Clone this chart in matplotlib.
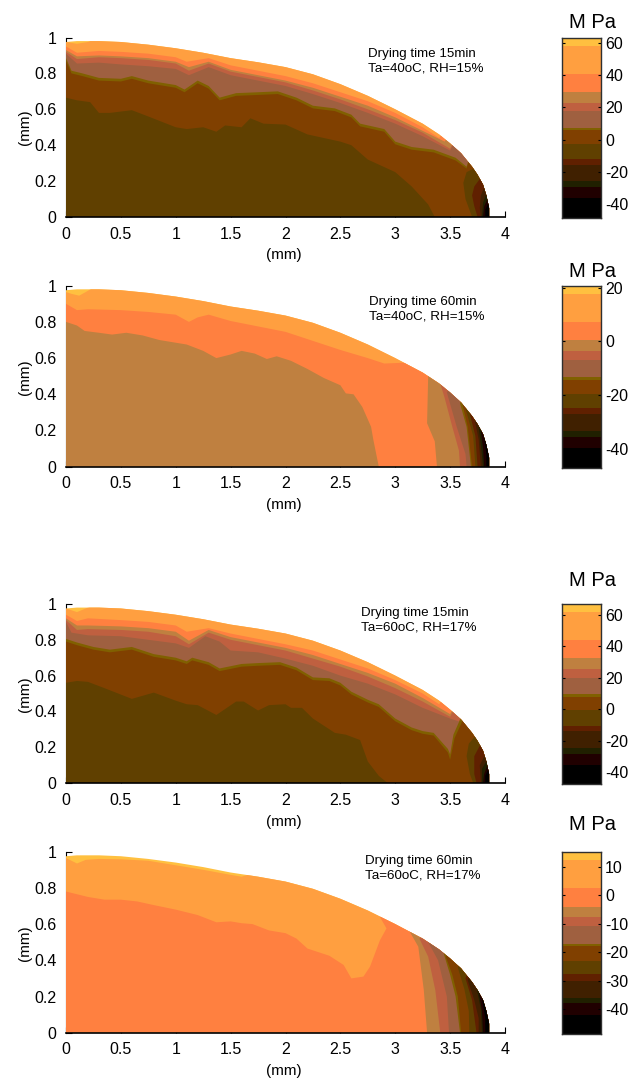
import matplotlib
matplotlib.use("Agg")
import matplotlib.pyplot as plt

plt.rcParams["font.family"] = ["Liberation Sans", "DejaVu Sans"]
plt.rcParams["axes.unicode_minus"] = False

W, H = 635, 1080

# colour bands, top of the scale first
YELLOW = "#FFC040"
ORANGE = "#FF9F40"
CORAL = "#FF8040"
TAN = "#BF8040"
RUST = "#BF6040"
MAUVE = "#9F6040"
OLIVE = "#806000"
BROWN = "#804000"
UMBER = "#604000"
MAROON = "#602000"
DARK = "#402000"
MOSS = "#202000"
NEAR_BLACK = "#200000"
BLACK = "#000000"
BAND_COLORS = [YELLOW, ORANGE, CORAL, TAN, RUST, MAUVE, OLIVE, BROWN, UMBER,
               MAROON, DARK, MOSS, NEAR_BLACK, BLACK]

# droplet outline, same in all panels
DOME_X = [0, 0.1, 0.3, 0.5, 0.75, 1, 1.25, 1.5, 1.75, 2, 2.25, 2.5, 2.75, 3, 3.25,
          3.4, 3.5, 3.6, 3.7, 3.75, 3.8, 3.83, 3.855, 3.855]
DOME_Y = [0.975, 0.98, 0.98, 0.975, 0.96, 0.94, 0.915, 0.885, 0.862, 0.835, 0.795, 0.74,
          0.675, 0.6, 0.52, 0.46, 0.41, 0.355, 0.28, 0.235, 0.18, 0.12, 0.05, 0]

# colour bar band edges (MPa), top to bottom
CB1_EDGES = [63.5, 58.3, 41.1, 29.9, 23.1, 17.5, 7.2, 5.7, -2.6, -12.1, -15.6, -26, -29.3, -36.5, -48.9]
CB2_EDGES = [20.7, 17.5, 7.3, 0.6, -3.6, -7, -13.3, -14.6, -19.5, -24.8, -27.2, -33.5, -35.6, -39.7, -47.2]
CB3_EDGES = [67.2, 61.9, 44.2, 32.8, 25.8, 20, 9.4, 7.7, -0.8, -10.6, -14, -24.6, -28.2, -35.2, -47.6]
CB4_EDGES = [15.3, 12.3, 2.4, -4, -7.7, -10.9, -17.1, -18, -23, -27.7, -30, -36.1, -38, -42, -48.7]
CB1_TICKS = [-40, -20, 0, 20, 40, 60]
CB2_TICKS = [-40, -20, 0, 20]
CB3_TICKS = [-40, -20, 0, 20, 40, 60]
CB4_TICKS = [-40, -30, -20, -10, 0, 10]

# panel 1: contour lines running from the axis out to the surface
P1_ORANGE = [(0, .975), (.1, .965), (.2, .975), (.3, 1)]
P1_CORAL = [(0, .95), (.1, .915), (.3, .925), (.5, .92), (.75, .91), (1, .89), (1.1, .865), (1.3, .885), (1.5, .845),
            (1.75, .815), (2, .785), (2.25, .745), (2.5, .695), (2.75, .645), (3, .58), (3.25, .5), (3.4, .44)]
P1_TAN = [(0, .93), (.1, .895), (.3, .9), (.5, .895), (.75, .885), (1, .865), (1.12, .835), (1.3, .865), (1.5, .82),
          (1.75, .79), (2, .76), (2.25, .72), (2.5, .67), (2.75, .62), (3, .555), (3.25, .48), (3.45, .42)]
P1_RUST = [(0, .92), (.1, .88), (.3, .89), (.5, .885), (.75, .875), (1, .855), (1.12, .815), (1.3, .855), (1.5, .81),
           (1.75, .78), (2, .75), (2.25, .705), (2.5, .655), (2.75, .6), (3, .54), (3.25, .47), (3.5, .38)]
P1_MAUVE = [(0, .91), (.1, .855), (.3, .86), (.5, .85), (.75, .84), (1, .825), (1.12, .79), (1.3, .835), (1.5, .79),
            (1.75, .76), (2, .73), (2.25, .685), (2.5, .635), (2.75, .58), (3, .52), (3.25, .45), (3.5, .37)]
P1_OLIVE = [(0, .885), (.05, .815), (.15, .8), (.3, .775), (.5, .77), (.6, .785), (.75, .76), (1, .735), (1.08, .71),
            (1.2, .76), (1.3, .73), (1.4, .665), (1.55, .69), (1.75, .695), (1.93, .7), (2.1, .665), (2.25, .62),
            (2.45, .605), (2.6, .57), (2.68, .52), (2.9, .49), (3, .42), (3.15, .39), (3.35, .375), (3.55, .33), (3.65, .28)]
P1_BROWN = [(0, .87), (.05, .8), (.15, .785), (.3, .76), (.5, .755), (.6, .77), (.75, .745), (1, .72), (1.08, .695),
            (1.2, .745), (1.3, .715), (1.4, .65), (1.55, .675), (1.75, .68), (1.93, .685), (2.1, .65), (2.25, .605),
            (2.45, .59), (2.6, .555), (2.68, .505), (2.9, .475), (3, .405), (3.15, .375), (3.35, .36), (3.55, .315), (3.65, .27)]
P1_UMBER = [(0, .665), (.1, .65), (.22, .64), (.3, .58), (.4, .58), (.6, .595), (.75, .56), (1, .5), (1.1, .49),
            (1.25, .5), (1.37, .475), (1.45, .51), (1.6, .5), (1.68, .55), (1.8, .52), (2, .515), (2.2, .46), (2.5, .42),
            (2.6, .4), (2.75, .32), (3, .25), (3.15, .17), (3.3, .07), (3.36, 0)]
# panel 1: lines near the contact edge, top to bottom
P1_EDGE_UMBER = [(3.75, .28), (3.65, .25), (3.62, .19), (3.64, .1), (3.7, 0)]
P1_EDGE_MAROON = [(3.78, .22), (3.72, .17), (3.7, .12), (3.72, .06), (3.75, 0)]
P1_EDGE_DARK = [(3.82, .18), (3.78, .12), (3.77, .05), (3.78, 0)]
P1_EDGE_MOSS = [(3.83, .13), (3.8, .08), (3.79, 0)]
P1_EDGE_NEAR = [(3.84, .1), (3.81, .06), (3.8, 0)]
P1_EDGE_BLACK = [(3.85, .08), (3.82, .04), (3.82, 0)]

# panel 2
P2_ORANGE = [(0, .965), (.05, .955), (.12, .945), (.18, .965), (.25, .99)]
P2_CORAL = [(0, .9), (.1, .865), (.2, .87), (.5, .865), (.75, .855), (1, .84), (1.12, .8), (1.2, .825), (1.3, .84),
            (1.5, .805), (1.75, .775), (2, .745), (2.25, .695), (2.5, .645), (2.75, .6), (2.9, .57), (3.1, .575), (3.2, .56)]
P2_TAN = [(0, .8), (.1, .78), (.17, .75), (.3, .74), (.42, .73), (.55, .74), (.7, .725), (.85, .7), (1, .685),
          (1.1, .675), (1.25, .64), (1.37, .6), (1.5, .62), (1.6, .64), (1.72, .625), (1.83, .595), (1.92, .61),
          (2.05, .585), (2.2, .54), (2.35, .49), (2.5, .45), (2.55, .405), (2.62, .4), (2.7, .33), (2.78, .22),
          (2.8, .15), (2.85, 0)]
P2_EDGE_TAN = [(3.3, .5), (3.29, .24), (3.36, .14), (3.38, 0)]
P2_EDGE_RUST = [(3.41, .46), (3.45, .38), (3.52, .22), (3.58, .09), (3.59, 0)]
P2_EDGE_MAUVE = [(3.47, .41), (3.56, .22), (3.64, .07), (3.65, 0)]
P2_EDGE_OLIVE = [(3.59, .35), (3.65, .22), (3.69, 0)]
P2_EDGE_BROWN = [(3.61, .35), (3.66, .22), (3.7, 0)]
P2_EDGE_UMBER = [(3.64, .32), (3.71, .17), (3.73, 0)]
P2_EDGE_MAROON = [(3.68, .29), (3.73, .17), (3.75, 0)]
P2_EDGE_DARK = [(3.72, .27), (3.76, .15), (3.78, 0)]
P2_EDGE_MOSS = [(3.76, .22), (3.78, .12), (3.8, 0)]
P2_EDGE_NEAR = [(3.78, .2), (3.8, .1), (3.81, 0)]
P2_EDGE_BLACK = [(3.81, .16), (3.83, .07), (3.83, 0)]

# panel 3
P3_ORANGE = [(0, .975), (.1, .955), (.2, .98), (.3, 1)]
P3_CORAL = [(0, .94), (.1, .905), (.2, .92), (.5, .91), (.75, .9), (1, .88), (1.1, .845), (1.3, .865), (1.5, .835),
            (1.75, .805), (2, .775), (2.25, .74), (2.5, .69), (2.75, .64), (3, .575), (3.25, .5), (3.4, .44)]
P3_TAN = [(0, .92), (.1, .88), (.2, .88), (.5, .875), (.75, .865), (1, .845), (1.12, .795), (1.3, .855), (1.5, .815),
          (1.75, .785), (2, .755), (2.25, .715), (2.5, .665), (2.75, .615), (3, .555), (3.25, .475), (3.5, .385)]
P3_RUST = [(0, .91), (.1, .855), (.2, .86), (.5, .855), (.75, .845), (1, .82), (1.12, .775), (1.3, .84), (1.5, .8),
           (1.75, .77), (2, .74), (2.25, .695), (2.5, .65), (2.75, .595), (3, .53), (3.25, .455), (3.5, .37)]
P3_MAUVE = [(0, .9), (.05, .84), (.2, .825), (.5, .82), (.75, .8), (1, .78), (1.12, .755), (1.27, .82), (1.4, .79),
            (1.5, .74), (1.75, .73), (2, .695), (2.25, .655), (2.5, .6), (2.75, .555), (3, .495), (3.25, .42),
            (3.5, .36), (3.6, .34)]
P3_OLIVE = [(0, .805), (.1, .785), (.25, .76), (.4, .745), (.6, .76), (.8, .72), (1, .7), (1.1, .68), (1.15, .7),
            (1.3, .675), (1.4, .64), (1.6, .665), (1.75, .67), (1.95, .675), (2.1, .645), (2.25, .59), (2.4, .585),
            (2.5, .56), (2.6, .51), (2.75, .465), (2.85, .44), (3, .36), (3.15, .31), (3.25, .29), (3.35, .28),
            (3.48, .19), (3.5, .16), (3.53, .27), (3.58, .34)]
P3_BROWN = [(0, .79), (.1, .77), (.25, .745), (.4, .73), (.6, .745), (.8, .705), (1, .685), (1.1, .665), (1.15, .685),
            (1.3, .66), (1.4, .625), (1.6, .65), (1.75, .655), (1.95, .66), (2.1, .63), (2.25, .575), (2.4, .57),
            (2.5, .545), (2.6, .495), (2.75, .45), (2.85, .425), (3, .345), (3.15, .295), (3.25, .275), (3.35, .265),
            (3.48, .17), (3.5, .13), (3.54, .25), (3.6, .33)]
P3_UMBER = [(0, .56), (.1, .57), (.2, .565), (.35, .53), (.6, .47), (.8, .505), (1, .46), (1.1, .44), (1.2, .435),
            (1.37, .38), (1.55, .455), (1.62, .455), (1.75, .405), (1.85, .435), (2, .44), (2.05, .42), (2.15, .42),
            (2.25, .36), (2.45, .28), (2.55, .27), (2.68, .24), (2.75, .12), (2.85, .04), (2.93, 0)]
P3_EDGE_UMBER = [(3.74, .27), (3.67, .22), (3.65, .15), (3.68, .05), (3.71, 0)]
P3_EDGE_MAROON = [(3.78, .22), (3.72, .15), (3.72, .05), (3.74, 0)]
P3_EDGE_DARK = [(3.82, .16), (3.77, .1), (3.78, 0)]
P3_EDGE_MOSS = [(3.83, .12), (3.79, .08), (3.79, 0)]
P3_EDGE_NEAR = [(3.84, .1), (3.81, .05), (3.8, 0)]
P3_EDGE_BLACK = [(3.85, .08), (3.82, .04), (3.82, 0)]

# panel 4
P4_ORANGE = [(0, .965), (.1, .935), (.18, .955), (.3, .96), (.5, .958), (.75, .95), (1, .925), (1.25, .9),
             (1.5, .872), (1.6, .862), (1.7, .88)]
P4_CORAL = [(0, .78), (.1, .765), (.2, .75), (.35, .735), (.5, .735), (.65, .725), (.8, .705), (1, .68), (1.2, .65),
            (1.37, .61), (1.5, .615), (1.6, .605), (1.7, .6), (1.85, .565), (2, .55), (2.1, .52), (2.2, .465), (2.4, .425),
            (2.53, .374), (2.6, .3), (2.71, .31), (2.77, .365), (2.86, .51), (2.92, .576), (2.86, .64)]
P4_EDGE_TAN = [(3.12, .571), (3.21, .475), (3.26, .236), (3.29, 0)]
P4_EDGE_RUST = [(3.22, .52), (3.3, .42), (3.365, .235), (3.41, 0)]
P4_EDGE_MAUVE = [(3.3, .5), (3.39, .4), (3.47, .2), (3.49, 0)]
P4_EDGE_OLIVE = [(3.44, .44), (3.5, .32), (3.55, .2), (3.59, 0)]
P4_EDGE_BROWN = [(3.46, .42), (3.52, .32), (3.57, .2), (3.6, 0)]
P4_EDGE_UMBER = [(3.57, .36), (3.63, .24), (3.67, .12), (3.675, 0)]
P4_EDGE_MAROON = [(3.64, .3), (3.7, .18), (3.74, 0)]
P4_EDGE_DARK = [(3.66, .29), (3.72, .18), (3.76, .08), (3.76, 0)]
P4_EDGE_MOSS = [(3.74, .25), (3.78, .13), (3.79, 0)]
P4_EDGE_NEAR = [(3.76, .23), (3.79, .12), (3.8, 0)]
P4_EDGE_BLACK = [(3.79, .19), (3.82, .08), (3.82, 0)]

X_TICKS = [0, 0.5, 1, 1.5, 2, 2.5, 3, 3.5, 4]
Y_TICKS = [0, 0.2, 0.4, 0.6, 0.8, 1]
X_LABELS = ["0", "0.5", "1", "1.5", "2", "2.5", "3", "3.5", "4"]
Y_LABELS = ["0", "0.2", "0.4", "0.6", "0.8", "1"]

PANEL_1 = {"top": [(ORANGE, P1_ORANGE), (CORAL, P1_CORAL), (TAN, P1_TAN), (RUST, P1_RUST), (MAUVE, P1_MAUVE),
                   (OLIVE, P1_OLIVE), (BROWN, P1_BROWN), (UMBER, P1_UMBER)],
           "edge": [(UMBER, P1_EDGE_UMBER), (MAROON, P1_EDGE_MAROON), (DARK, P1_EDGE_DARK), (MOSS, P1_EDGE_MOSS),
                    (NEAR_BLACK, P1_EDGE_NEAR), (BLACK, P1_EDGE_BLACK)],
           "note": "Drying time 15min\nTa=40oC, RH=15%", "edges": CB1_EDGES, "ticks": CB1_TICKS,
           "y": (37.5, 217), "cb": (37.7, 218), "title_y": 22, "label_y": 255, "side_y": 127, "note_xy": (368, 61)}
PANEL_2 = {"top": [(ORANGE, P2_ORANGE), (CORAL, P2_CORAL), (TAN, P2_TAN)],
           "edge": [(TAN, P2_EDGE_TAN), (RUST, P2_EDGE_RUST), (MAUVE, P2_EDGE_MAUVE), (OLIVE, P2_EDGE_OLIVE),
                    (BROWN, P2_EDGE_BROWN), (UMBER, P2_EDGE_UMBER), (MAROON, P2_EDGE_MAROON), (DARK, P2_EDGE_DARK),
                    (MOSS, P2_EDGE_MOSS), (NEAR_BLACK, P2_EDGE_NEAR), (BLACK, P2_EDGE_BLACK)],
           "note": "Drying time 60min\nTa=40oC, RH=15%", "edges": CB2_EDGES, "ticks": CB2_TICKS,
           "y": (285.7, 466.7), "cb": (285.7, 468), "title_y": 271, "label_y": 505, "side_y": 377, "note_xy": (369, 309)}
PANEL_3 = {"top": [(ORANGE, P3_ORANGE), (CORAL, P3_CORAL), (TAN, P3_TAN), (RUST, P3_RUST), (MAUVE, P3_MAUVE),
                   (OLIVE, P3_OLIVE), (BROWN, P3_BROWN), (UMBER, P3_UMBER)],
           "edge": [(UMBER, P3_EDGE_UMBER), (MAROON, P3_EDGE_MAROON), (DARK, P3_EDGE_DARK), (MOSS, P3_EDGE_MOSS),
                    (NEAR_BLACK, P3_EDGE_NEAR), (BLACK, P3_EDGE_BLACK)],
           "note": "Drying time 15min\nTa=60oC, RH=17%", "edges": CB3_EDGES, "ticks": CB3_TICKS,
           "y": (604, 783), "cb": (603.7, 784), "title_y": 580, "label_y": 821.7, "side_y": 694, "note_xy": (361, 620)}
PANEL_4 = {"top": [(ORANGE, P4_ORANGE), (CORAL, P4_CORAL)],
           "edge": [(TAN, P4_EDGE_TAN), (RUST, P4_EDGE_RUST), (MAUVE, P4_EDGE_MAUVE), (OLIVE, P4_EDGE_OLIVE),
                    (BROWN, P4_EDGE_BROWN), (UMBER, P4_EDGE_UMBER), (MAROON, P4_EDGE_MAROON), (DARK, P4_EDGE_DARK),
                    (MOSS, P4_EDGE_MOSS), (NEAR_BLACK, P4_EDGE_NEAR), (BLACK, P4_EDGE_BLACK)],
           "note": "Drying time 60min\nTa=60oC, RH=17%", "edges": CB4_EDGES, "ticks": CB4_TICKS,
           "y": (851.7, 1032.7), "cb": (851.7, 1033.7), "title_y": 825, "label_y": 1070.7, "side_y": 943, "note_xy": (365, 868)}


def main():
    fig = plt.figure(figsize=(W / 100, H / 100), dpi=100)
    for panel in [PANEL_1, PANEL_2, PANEL_3, PANEL_4]:
        plot_panel(fig, panel)
        plot_colorbar(fig, panel)
    fig.savefig("out.png", dpi=100)
    plt.close(fig)


def add_axes_px(fig, left, right, top, bottom):
    return fig.add_axes([left / W, 1 - bottom / H, (right - left) / W, (bottom - top) / H])


def text_px(fig, x, y, s, **kw):
    fig.text(x / W, 1 - y / H, s, **kw)


def plot_panel(fig, panel):
    top, bottom = panel["y"]
    ax = add_axes_px(fig, 66, 505, top, bottom)
    ax.set_xlim(0, 4)
    ax.set_ylim(0, 1)
    ax.set_axisbelow(True)

    # the outline is filled first, every band is clipped to it
    outline = ax.fill(DOME_X + [0], DOME_Y + [0], color=YELLOW, lw=0, zorder=1)[0]

    for color, line in panel["top"]:
        xs = [p[0] for p in line]
        ys = [p[1] for p in line]
        # lines that stop on the surface take in everything to their right
        if ys[-1] > 0:
            xs = xs + [4, 4]
            ys = ys + [1, 0]
        band = ax.fill(xs + [0], ys + [0], color=color, lw=0, zorder=1)[0]
        band.set_clip_path(outline)

    # contact edge bands run the other way, closed towards the right
    for color, line in panel["edge"]:
        xs = [p[0] for p in line] + [4, 4]
        ys = [p[1] for p in line] + [0, 1]
        band = ax.fill(xs, ys, color=color, lw=0, zorder=1)[0]
        band.set_clip_path(outline)

    ax.spines["top"].set_visible(False)
    ax.spines["right"].set_visible(False)
    ax.spines["left"].set_zorder(0.5)
    ax.spines["bottom"].set_linewidth(1.2)
    ax.set_xticks(X_TICKS)
    ax.set_xticklabels(X_LABELS)
    ax.set_yticks(Y_TICKS)
    ax.set_yticklabels(Y_LABELS)
    ax.tick_params(direction="in", length=4, width=0.8, labelsize=11.5)
    ax.tick_params(axis="x", pad=7)
    ax.tick_params(axis="y", pad=7)

    text_px(fig, 284, panel["label_y"], "(mm)", ha="center", va="center", fontsize=11)
    text_px(fig, 25, panel["side_y"], "(mm)", ha="center", va="center", rotation=90, fontsize=11)
    nx, ny = panel["note_xy"]
    text_px(fig, nx, ny, panel["note"], ha="left", va="center", fontsize=9.6, linespacing=1.25)


def plot_colorbar(fig, panel):
    top, bottom = panel["cb"]
    ax = add_axes_px(fig, 562, 601, top, bottom)
    edges = panel["edges"]
    for i, color in enumerate(BAND_COLORS):
        ax.bar(0, edges[i] - edges[i + 1], bottom=edges[i + 1], width=1, color=color, lw=0)
    ax.set_xlim(-0.5, 0.5)
    ax.set_ylim(edges[-1], edges[0])
    ax.set_xticks([])
    ax.set_yticks(panel["ticks"])
    ax.tick_params(axis="y", direction="in", length=2, width=0.8, left=True, right=True,
                   labelleft=False, labelright=True, labelsize=11.5, pad=3)
    for spine in ax.spines.values():
        spine.set_color("#303030")
        spine.set_linewidth(1)
    text_px(fig, 592.7, panel["title_y"], "M Pa", ha="center", va="center", fontsize=14.5)


main()
